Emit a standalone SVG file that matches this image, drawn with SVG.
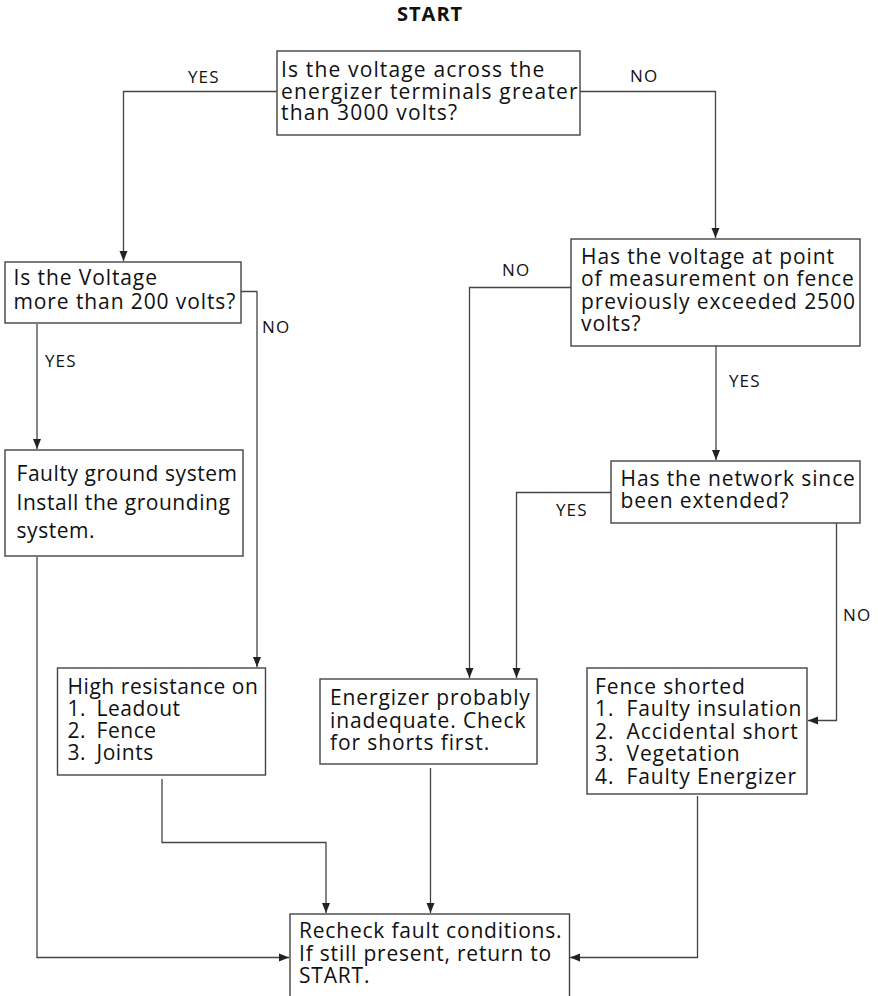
<svg xmlns="http://www.w3.org/2000/svg" width="878" height="996" viewBox="0 0 878 996">
<style>
.box{fill:#fff;stroke:#444;stroke-width:1.4}
.t{font-family:"Open Sans","Noto Sans","Liberation Sans",sans-serif;font-size:21px;letter-spacing:0.9px;fill:#111}
.lbl{font-family:"Open Sans","Noto Sans","Liberation Sans",sans-serif;font-size:17px;letter-spacing:1.1px;fill:#111}
.title{font-family:"Open Sans","Noto Sans","Liberation Sans",sans-serif;font-size:20px;font-weight:bold;letter-spacing:1px;fill:#111}
.c{fill:none;stroke:#444;stroke-width:1.3}
#q1 .t{letter-spacing:1.15px}
#ground .t,#highres .t{letter-spacing:0.55px}
#recheck .t{letter-spacing:0.8px}
</style>
<defs>
<marker id="arr" markerUnits="userSpaceOnUse" markerWidth="12" markerHeight="10" refX="10" refY="5" orient="auto">
<path d="M0,1 L10,5 L0,9 Z" fill="#222"/>
</marker>
</defs>
<text class="title" x="397" y="21">START</text>

<g id="connectors">
<path class="c" d="M277,91.5 H123.5 V261" marker-end="url(#arr)"/>
<path class="c" d="M580,91.5 H715.5 V238" marker-end="url(#arr)"/>
<path class="c" d="M241,291.5 H257 V667" marker-end="url(#arr)"/>
<path class="c" d="M37,324 V449" marker-end="url(#arr)"/>
<path class="c" d="M37,557 V957.5 H289" marker-end="url(#arr)"/>
<path class="c" d="M571,287.5 H469.5 V678" marker-end="url(#arr)"/>
<path class="c" d="M716,346 V460" marker-end="url(#arr)"/>
<path class="c" d="M611,492.5 H516.5 V678" marker-end="url(#arr)"/>
<path class="c" d="M836.5,523 V720.5 H808" marker-end="url(#arr)"/>
<path class="c" d="M162,779 V842.5 H326 V913" marker-end="url(#arr)"/>
<path class="c" d="M430.5,768 V913" marker-end="url(#arr)"/>
<path class="c" d="M697.5,796 V957.5 H570" marker-end="url(#arr)"/>
<text class="lbl" x="188" y="83">YES</text>
<text class="lbl" x="630" y="82">NO</text>
<text class="lbl" x="262" y="333">NO</text>
<text class="lbl" x="45" y="367">YES</text>
<text class="lbl" x="502" y="276">NO</text>
<text class="lbl" x="729" y="386.5">YES</text>
<text class="lbl" x="556" y="515.5">YES</text>
<text class="lbl" x="843" y="620.5">NO</text>
</g>

<g id="q1">
<rect class="box" x="277" y="51" width="303" height="84"/>
<text class="t" x="281" y="77">Is the voltage across the</text>
<text class="t" x="281" y="98.5">energizer terminals greater</text>
<text class="t" x="281" y="120">than 3000 volts?</text>
</g>

<g id="q2">
<rect class="box" x="5" y="262" width="236" height="61"/>
<text class="t" x="13.5" y="285">Is the Voltage</text>
<text class="t" x="13.5" y="309">more than 200 volts?</text>
</g>

<g id="ground">
<rect class="box" x="5" y="450" width="238" height="106"/>
<text class="t" x="16.5" y="481">Faulty ground system</text>
<text class="t" x="16.5" y="510">Install the grounding</text>
<text class="t" x="16.5" y="538">system.</text>
</g>

<g id="q3">
<rect class="box" x="571" y="239" width="289" height="107"/>
<text class="t" x="581" y="263.5">Has the voltage at point</text>
<text class="t" x="581" y="286">of measurement on fence</text>
<text class="t" x="581" y="308.5">previously exceeded 2500</text>
<text class="t" x="581" y="331">volts?</text>
</g>

<g id="q4">
<rect class="box" x="611" y="461" width="249" height="62"/>
<text class="t" x="620.5" y="485.5">Has the network since</text>
<text class="t" x="620.5" y="508">been extended?</text>
</g>

<g id="highres">
<rect class="box" x="57.5" y="668" width="208" height="107"/>
<text class="t" x="67.5" y="694">High resistance on</text>
<text class="t" y="716"><tspan x="67.5">1.</tspan><tspan x="96.5">Leadout</tspan></text>
<text class="t" y="738"><tspan x="67.5">2.</tspan><tspan x="96.5">Fence</tspan></text>
<text class="t" y="760"><tspan x="67.5">3.</tspan><tspan x="96.5">Joints</tspan></text>
</g>

<g id="energizer">
<rect class="box" x="320" y="679" width="217" height="85"/>
<text class="t" x="330" y="705">Energizer probably</text>
<text class="t" x="330" y="728">inadequate. Check</text>
<text class="t" x="330" y="750">for shorts first.</text>
</g>

<g id="fence">
<rect class="box" x="587" y="668" width="220" height="126"/>
<text class="t" x="595" y="693.5">Fence shorted</text>
<text class="t" y="716"><tspan x="595">1.</tspan><tspan x="626.5">Faulty insulation</tspan></text>
<text class="t" y="738.5"><tspan x="595">2.</tspan><tspan x="626.5">Accidental short</tspan></text>
<text class="t" y="761"><tspan x="595">3.</tspan><tspan x="626.5">Vegetation</tspan></text>
<text class="t" y="783.5"><tspan x="595">4.</tspan><tspan x="626.5">Faulty Energizer</tspan></text>
</g>

<g id="recheck">
<rect class="box" x="290" y="914" width="279.5" height="100"/>
<text class="t" x="299" y="938">Recheck fault conditions.</text>
<text class="t" x="299" y="960.5">If still present, return to</text>
<text class="t" x="299" y="983">START.</text>
</g>
</svg>
